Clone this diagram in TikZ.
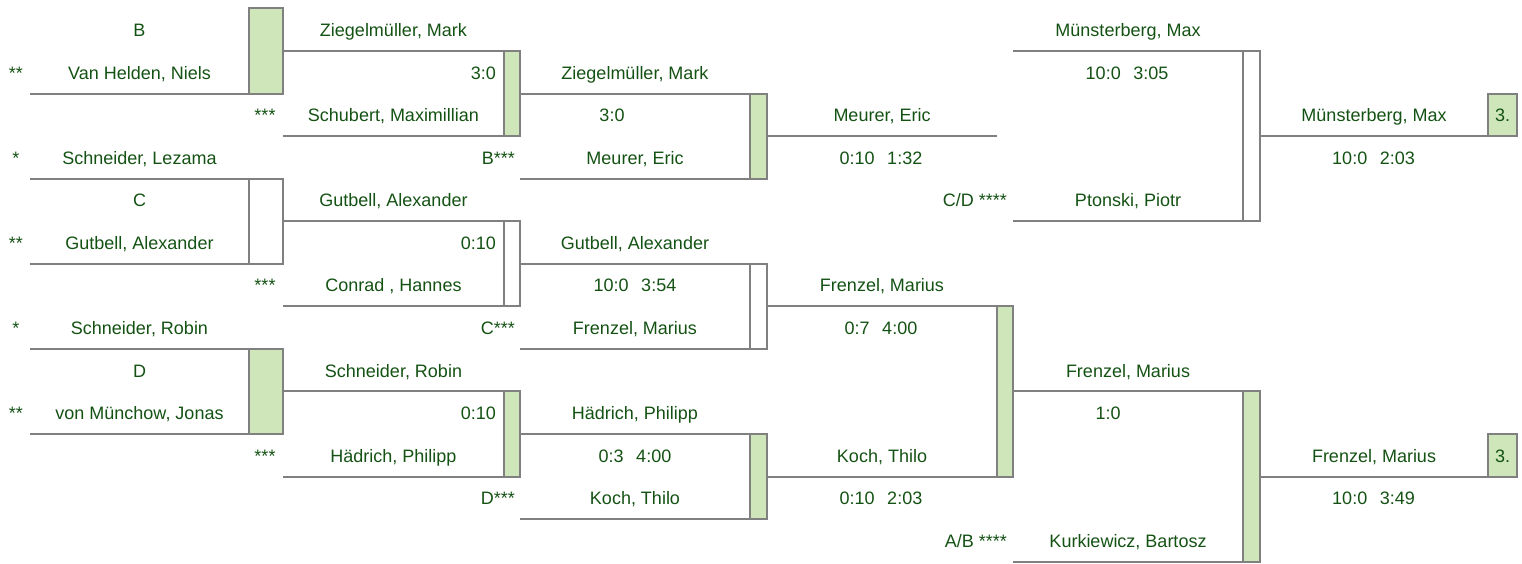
\documentclass[tikz,border=0pt]{standalone}
\usepackage{fontspec}
\setmainfont{Liberation Sans}
\definecolor{txtgreen}{RGB}{20,82,20}
\definecolor{boxgreen}{RGB}{207,230,186}
\definecolor{lngray}{RGB}{128,128,128}
\newcommand{\LY}[1]{{51+42.55*(#1)}}
\newcommand{\TY}[1]{{36.6+42.55*(#1)}}
\newcommand{\gap}{\hspace{12.5pt}}
\begin{document}
\begin{tikzpicture}[x=1pt,y=-1pt,
  ln/.style={draw=lngray,line width=2pt},
  gbox/.style={draw=lngray,line width=2pt,fill=boxgreen},
  wbox/.style={draw=lngray,line width=2pt,fill=white},
  nm/.style={text=txtgreen,font=\fontsize{18}{20}\selectfont,anchor=base,inner sep=0pt},
  sc/.style={nm},
  scr/.style={nm,anchor=base east},
  st/.style={nm}]
\useasboundingbox (0,0) rectangle (1522,564);
% ---------- column 1 ----------
\draw[ln] (30,\LY{1}) -- (249,\LY{1});
\draw[ln] (30,\LY{3}) -- (249,\LY{3});
\draw[ln] (30,\LY{5}) -- (249,\LY{5});
\draw[ln] (30,\LY{7}) -- (249,\LY{7});
\draw[ln] (30,\LY{9}) -- (249,\LY{9});
\draw[gbox] (249,\LY{-1}) rectangle (283,\LY{1});
\draw[wbox] (249,\LY{3}) rectangle (283,\LY{5});
\draw[gbox] (249,\LY{7}) rectangle (283,\LY{9});
\node[nm] (gB) at (139.5,\TY{0}) {B};
\node[nm] (a1) at (139.5,\TY{1}) {Van Helden, Niels};
\node[st] (s1) at (16,\TY{1}) {**};
\node[nm] (a2) at (139.5,\TY{3}) {Schneider, Lezama};
\node[st] (s2) at (16,\TY{3}) {*};
\node[nm] (gC) at (139.5,\TY{4}) {C};
\node[nm] (a3) at (139.5,\TY{5}) {Gutbell, Alexander};
\node[st] (s3) at (16,\TY{5}) {**};
\node[nm] (a4) at (139.5,\TY{7}) {Schneider, Robin};
\node[st] (s4) at (16,\TY{7}) {*};
\node[nm] (gD) at (139.5,\TY{8}) {D};
\node[nm] (a5) at (139.5,\TY{9}) {von Münchow, Jonas};
\node[st] (s5) at (16,\TY{9}) {**};
% ---------- column 2 ----------
\draw[ln] (283,\LY{0}) -- (504,\LY{0});
\draw[ln] (283,\LY{2}) -- (504,\LY{2});
\draw[ln] (283,\LY{4}) -- (504,\LY{4});
\draw[ln] (283,\LY{6}) -- (504,\LY{6});
\draw[ln] (283,\LY{8}) -- (504,\LY{8});
\draw[ln] (283,\LY{10}) -- (504,\LY{10});
\draw[gbox] (504,\LY{0}) rectangle (520,\LY{2});
\draw[wbox] (504,\LY{4}) rectangle (520,\LY{6});
\draw[gbox] (504,\LY{8}) rectangle (520,\LY{10});
\node[nm] (b1) at (393.5,\TY{0}) {Ziegelmüller, Mark};
\node[scr] (r1) at (496,\TY{1}) {3:0};
\node[st] (t1) at (265,\TY{2}) {***};
\node[nm] (b2) at (393.5,\TY{2}) {Schubert, Maximillian};
\node[nm] (b3) at (393.5,\TY{4}) {Gutbell, Alexander};
\node[scr] (r2) at (496,\TY{5}) {0:10};
\node[st] (t2) at (265,\TY{6}) {***};
\node[nm] (b4) at (393.5,\TY{6}) {Conrad , Hannes};
\node[nm] (b5) at (393.5,\TY{8}) {Schneider, Robin};
\node[scr] (r3) at (496,\TY{9}) {0:10};
\node[st] (t3) at (265,\TY{10}) {***};
\node[nm] (b6) at (393.5,\TY{10}) {Hädrich, Philipp};
% ---------- column 3 ----------
\draw[ln] (520,\LY{1}) -- (750,\LY{1});
\draw[ln] (520,\LY{3}) -- (750,\LY{3});
\draw[ln] (520,\LY{5}) -- (750,\LY{5});
\draw[ln] (520,\LY{7}) -- (750,\LY{7});
\draw[ln] (520,\LY{9}) -- (750,\LY{9});
\draw[ln] (520,\LY{11}) -- (750,\LY{11});
\draw[gbox] (750,\LY{1}) rectangle (767,\LY{3});
\draw[wbox] (750,\LY{5}) rectangle (767,\LY{7});
\draw[gbox] (750,\LY{9}) rectangle (767,\LY{11});
\node[nm] (c1) at (635,\TY{1}) {Ziegelmüller, Mark};
\node[sc] (q1) at (612,\TY{2}) {3:0};
\node[scr] (u1) at (515,\TY{3}) {B***};
\node[nm] (c2) at (635,\TY{3}) {Meurer, Eric};
\node[nm] (c3) at (635,\TY{5}) {Gutbell, Alexander};
\node[sc] (q2) at (635,\TY{6}) {10:0\gap3:54};
\node[scr] (u2) at (515,\TY{7}) {C***};
\node[nm] (c4) at (635,\TY{7}) {Frenzel, Marius};
\node[nm] (c5) at (635,\TY{9}) {Hädrich, Philipp};
\node[sc] (q3) at (635,\TY{10}) {0:3\gap4:00};
\node[scr] (u3) at (515,\TY{11}) {D***};
\node[nm] (c6) at (635,\TY{11}) {Koch, Thilo};
% ---------- column 4 ----------
\draw[ln] (767,\LY{2}) -- (997,\LY{2});
\draw[ln] (767,\LY{6}) -- (997,\LY{6});
\draw[ln] (767,\LY{10}) -- (997,\LY{10});
\draw[gbox] (997,\LY{6}) rectangle (1013,\LY{10});
\node[nm] (d1) at (882,\TY{2}) {Meurer, Eric};
\node[sc] (p1) at (881,\TY{3}) {0:10\gap1:32};
\node[nm] (d2) at (882,\TY{6}) {Frenzel, Marius};
\node[sc] (p2) at (881,\TY{7}) {0:7\gap4:00};
\node[nm] (d3) at (882,\TY{10}) {Koch, Thilo};
\node[sc] (p3) at (881,\TY{11}) {0:10\gap2:03};
% ---------- column 5 ----------
\draw[ln] (1013,\LY{0}) -- (1243,\LY{0});
\draw[ln] (1013,\LY{4}) -- (1243,\LY{4});
\draw[ln] (1013,\LY{8}) -- (1243,\LY{8});
\draw[ln] (1013,\LY{12}) -- (1243,\LY{12});
\draw[wbox] (1243,\LY{0}) rectangle (1260,\LY{4});
\draw[gbox] (1243,\LY{8}) rectangle (1260,\LY{12});
\node[nm] (e1) at (1128,\TY{0}) {Münsterberg, Max};
\node[sc] (o1) at (1127,\TY{1}) {10:0\gap3:05};
\node[scr] (v1) at (1007,\TY{4}) {C/D ****};
\node[nm] (e2) at (1128,\TY{4}) {Ptonski, Piotr};
\node[nm] (e3) at (1128,\TY{8}) {Frenzel, Marius};
\node[sc] (o2) at (1108,\TY{9}) {1:0};
\node[scr] (v2) at (1007,\TY{12}) {A/B ****};
\node[nm] (e4) at (1128,\TY{12}) {Kurkiewicz, Bartosz};
% ---------- column 6 ----------
\draw[ln] (1260,\LY{2}) -- (1488,\LY{2});
\draw[ln] (1260,\LY{10}) -- (1488,\LY{10});
\draw[gbox] (1488,\LY{1}) rectangle (1517,\LY{2});
\draw[gbox] (1488,\LY{9}) rectangle (1517,\LY{10});
\node[nm] (f1) at (1374,\TY{2}) {Münsterberg, Max};
\node[sc] (w1) at (1373.5,\TY{3}) {10:0\gap2:03};
\node[nm] (k1) at (1502.5,\TY{2}) {3.};
\node[nm] (f2) at (1374,\TY{10}) {Frenzel, Marius};
\node[sc] (w2) at (1373.5,\TY{11}) {10:0\gap3:49};
\node[nm] (k2) at (1502.5,\TY{10}) {3.};
\end{tikzpicture}
\end{document}
